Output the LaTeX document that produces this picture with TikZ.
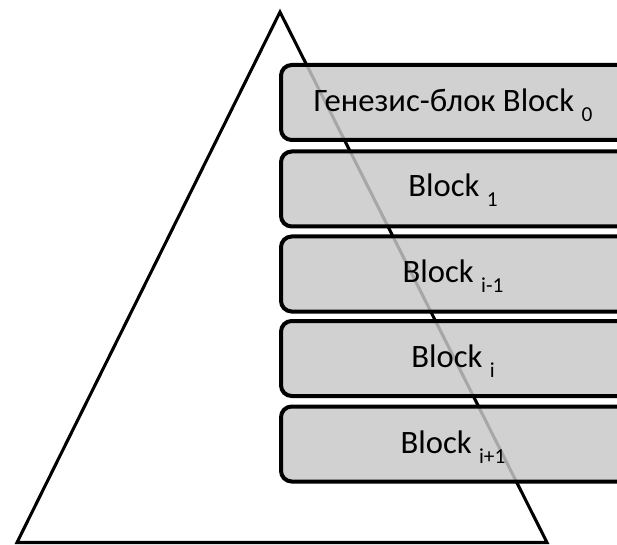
\documentclass[tikz,border=0pt]{standalone}
\usepackage{fontspec}
\setmainfont{Carlito}
\begin{document}
\begin{tikzpicture}[x=0.75pt,y=-0.75pt,
  blockbox/.style={draw=black, line width=3pt, rounded corners=8pt,
    fill={rgb,255:red,200;green,200;blue,200}, fill opacity=0.84,
    minimum width=261pt, minimum height=56.25pt, inner sep=0pt, anchor=west},
  blocktext/.style={anchor=base, inner sep=0pt, font=\fontsize{24.5}{28}\selectfont},
  tri/.style={draw=black, line width=2.3pt, line join=miter}
]
\newcommand{\blksub}[1]{{\fontsize{16}{18}\selectfont\raisebox{-7.5pt}{#1}}}
\useasboundingbox (0,0) rectangle (617,545);
\clip (0,0) rectangle (617,545);
\coordinate (apex) at (280,12);
\coordinate (bl) at (17,542.5);
\coordinate (br) at (547,542.5);
\draw[tri] (apex) -- (br) -- (bl) -- cycle;
\node[blockbox] (b0) at (279,102.5) {};
\node[blockbox] (b1) at (279,189) {};
\node[blockbox] (b2) at (279,274) {};
\node[blockbox] (b3) at (279,358.5) {};
\node[blockbox] (b4) at (279,444) {};
\node[blocktext] (t0) at (453,112) {Генезис-блок Block \blksub{0}};
\node[blocktext] (t1) at (453,197) {Block \blksub{1}};
\node[blocktext] (t2) at (453,282) {Block \blksub{i-1}};
\node[blocktext] (t3) at (453,367) {Block \blksub{i}};
\node[blocktext] (t4) at (453,453) {Block \blksub{i+1}};
\end{tikzpicture}
\end{document}
